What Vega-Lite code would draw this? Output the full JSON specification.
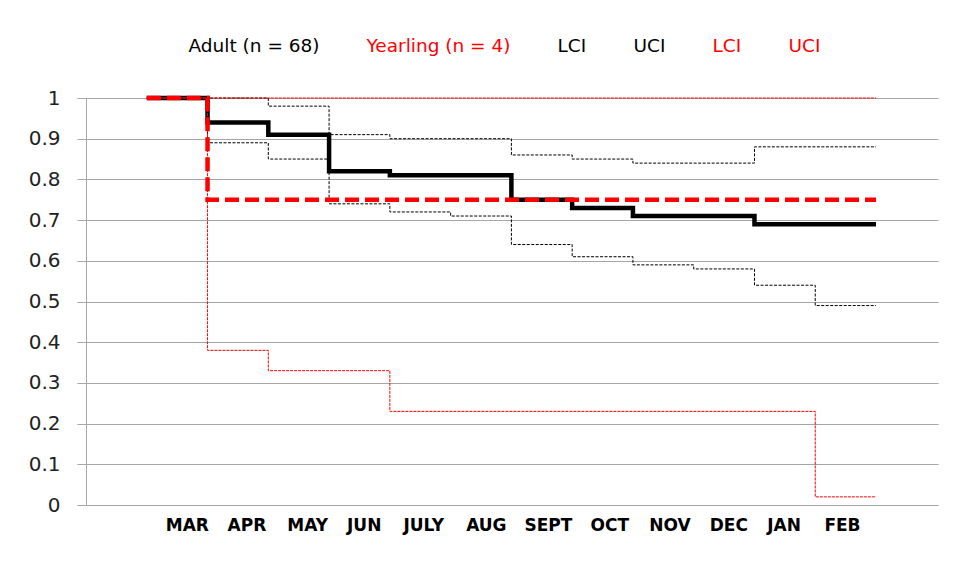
{
  "$schema": "https://vega.github.io/schema/vega-lite/v6.json",
  "width": 852,
  "height": 407,
  "autosize": {"type": "none"},
  "padding": {"left": 86, "top": 98, "right": 23, "bottom": 65},
  "background": "#ffffff",
  "config": {
    "view": {"stroke": null},
    "font": "DejaVu Sans"
  },
  "data": {
    "values": [
      {"series": "Adult (n = 68)", "t": 0, "v": 1.0},
      {"series": "Adult (n = 68)", "t": 1, "v": 0.94},
      {"series": "Adult (n = 68)", "t": 2, "v": 0.91},
      {"series": "Adult (n = 68)", "t": 3, "v": 0.82},
      {"series": "Adult (n = 68)", "t": 4, "v": 0.81},
      {"series": "Adult (n = 68)", "t": 6, "v": 0.75},
      {"series": "Adult (n = 68)", "t": 7, "v": 0.73},
      {"series": "Adult (n = 68)", "t": 8, "v": 0.71},
      {"series": "Adult (n = 68)", "t": 10, "v": 0.69},
      {"series": "Adult (n = 68)", "t": 12, "v": 0.69},
      {"series": "Adult LCI", "t": 0, "v": 1.0},
      {"series": "Adult LCI", "t": 1, "v": 0.89},
      {"series": "Adult LCI", "t": 2, "v": 0.85},
      {"series": "Adult LCI", "t": 3, "v": 0.74},
      {"series": "Adult LCI", "t": 4, "v": 0.72},
      {"series": "Adult LCI", "t": 5, "v": 0.71},
      {"series": "Adult LCI", "t": 6, "v": 0.64},
      {"series": "Adult LCI", "t": 7, "v": 0.61},
      {"series": "Adult LCI", "t": 8, "v": 0.59},
      {"series": "Adult LCI", "t": 9, "v": 0.58},
      {"series": "Adult LCI", "t": 10, "v": 0.54},
      {"series": "Adult LCI", "t": 11, "v": 0.49},
      {"series": "Adult LCI", "t": 12, "v": 0.49},
      {"series": "Adult UCI", "t": 0, "v": 1.0},
      {"series": "Adult UCI", "t": 2, "v": 0.98},
      {"series": "Adult UCI", "t": 3, "v": 0.91},
      {"series": "Adult UCI", "t": 4, "v": 0.90},
      {"series": "Adult UCI", "t": 6, "v": 0.86},
      {"series": "Adult UCI", "t": 7, "v": 0.85},
      {"series": "Adult UCI", "t": 8, "v": 0.84},
      {"series": "Adult UCI", "t": 10, "v": 0.88},
      {"series": "Adult UCI", "t": 12, "v": 0.88},
      {"series": "Yearling (n = 4)", "t": 0, "v": 1.0},
      {"series": "Yearling (n = 4)", "t": 1, "v": 0.75},
      {"series": "Yearling (n = 4)", "t": 12, "v": 0.75},
      {"series": "Yearling LCI", "t": 0, "v": 1.0},
      {"series": "Yearling LCI", "t": 1, "v": 0.38},
      {"series": "Yearling LCI", "t": 2, "v": 0.33},
      {"series": "Yearling LCI", "t": 4, "v": 0.23},
      {"series": "Yearling LCI", "t": 11, "v": 0.02},
      {"series": "Yearling LCI", "t": 12, "v": 0.02},
      {"series": "Yearling UCI", "t": 0, "v": 1.0},
      {"series": "Yearling UCI", "t": 12, "v": 1.0}
    ]
  },
  "encoding": {
    "x": {
      "field": "t",
      "type": "quantitative",
      "scale": {"domain": [-1.0, 13.02], "nice": false, "zero": false},
      "axis": {
        "title": null,
        "values": [0.66, 1.64, 2.64, 3.57, 4.55, 5.58, 6.6, 7.61, 8.6, 9.57, 10.48, 11.44],
        "labelExpr": "['MAR','APR','MAY','JUN','JULY','AUG','SEPT','OCT','NOV','DEC','JAN','FEB'][floor(datum.value)]",
        "grid": false,
        "domain": false,
        "ticks": false,
        "labelFont": "DejaVu Sans",
        "labelFontSize": 17,
        "labelFontWeight": "bold",
        "labelColor": "#000000",
        "labelPadding": 12,
        "labelOverlap": false,
        "labelBound": false,
        "labelFlush": false
      }
    },
    "y": {
      "field": "v",
      "type": "quantitative",
      "scale": {"domain": [0, 1], "nice": false},
      "axis": {
        "title": null,
        "values": [0, 0.1, 0.2, 0.3, 0.4, 0.5, 0.6, 0.7, 0.8, 0.9, 1],
        "format": ".1~f",
        "grid": true,
        "gridColor": "#a6a6a6",
        "gridWidth": 1,
        "domain": true,
        "domainColor": "#a6a6a6",
        "domainWidth": 1,
        "ticks": true,
        "tickSize": 9,
        "tickColor": "#a6a6a6",
        "tickWidth": 1,
        "labelFont": "DejaVu Sans",
        "labelFontSize": 20,
        "labelColor": "#222222",
        "labelPadding": 17,
        "labelOverlap": false,
        "labelFlush": false
      }
    },
    "color": {
      "field": "series",
      "type": "nominal",
      "scale": {
        "domain": ["Adult (n = 68)", "Yearling (n = 4)", "Adult LCI", "Adult UCI", "Yearling LCI", "Yearling UCI"],
        "range": ["#000000", "#ff0000", "#000000", "#000000", "#ff0000", "#ff0000"]
      },
      "legend": {
        "orient": "none",
        "legendX": 84,
        "legendY": -61,
        "direction": "horizontal",
        "title": null,
        "padding": 0,
        "symbolSize": 0,
        "symbolOpacity": 0,
        "symbolStrokeWidth": 0,
        "labelOffset": 0,
        "columnPadding": 28,
        "labelFont": "DejaVu Sans",
        "labelFontSize": 18.5,
        "labelLimit": 300,
        "labelExpr": "indexof(datum.value, 'LCI') >= 0 ? 'LCI' : (indexof(datum.value, 'UCI') >= 0 ? 'UCI' : datum.value)",
        "labelColor": {"expr": "indexof(datum.value, 'Yearling') >= 0 ? '#ff0000' : '#000000'"}
      }
    },
    "strokeDash": {
      "field": "series",
      "type": "nominal",
      "scale": {
        "domain": ["Adult (n = 68)", "Yearling (n = 4)", "Adult LCI", "Adult UCI", "Yearling LCI", "Yearling UCI"],
        "range": [[1, 0], [14, 6], [3, 1.5], [3, 1.5], [3, 1], [3, 1]]
      },
      "legend": null
    },
    "strokeWidth": {
      "field": "series",
      "type": "nominal",
      "scale": {
        "type": "ordinal",
        "domain": ["Adult (n = 68)", "Yearling (n = 4)", "Adult LCI", "Adult UCI", "Yearling LCI", "Yearling UCI"],
        "range": [4.5, 4.5, 1, 1, 1, 1]
      },
      "legend": null
    }
  },
  "layer": [
    {
      "transform": [{"filter": "indexof(datum.series, 'Adult') >= 0"}],
      "mark": {"type": "line", "interpolate": "step-after"}
    },
    {
      "transform": [{"filter": "indexof(datum.series, 'Yearling') >= 0"}],
      "mark": {"type": "line", "interpolate": "step-after"}
    }
  ]
}
